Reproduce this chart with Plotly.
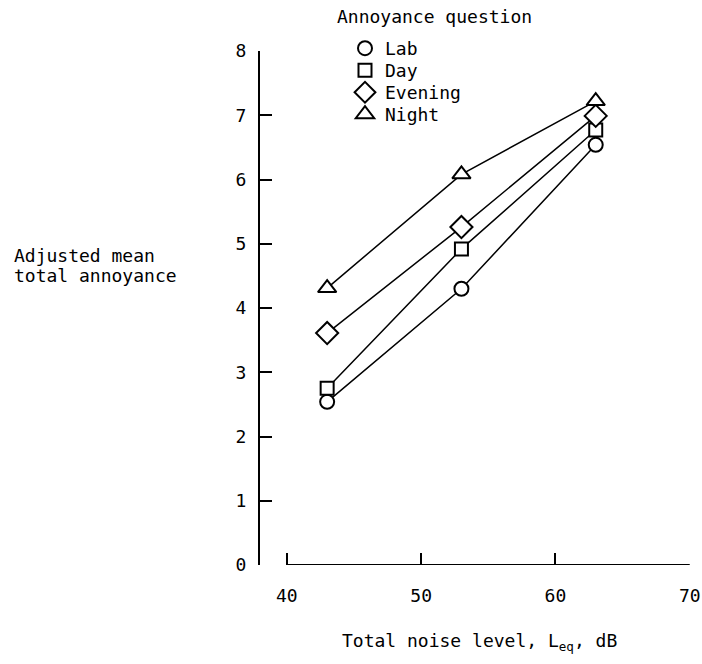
import plotly.graph_objects as go

noise_level = [43, 53, 63]
series_names = ["Lab", "Day", "Evening", "Night"]
lab = [2.54, 4.30, 6.54]
day = [2.75, 4.92, 6.77]
evening = [3.61, 5.26, 6.99]
night = [4.31, 6.08, 7.22]
x_ticks = [40, 50, 60, 70]
y_ticks = [0, 1, 2, 3, 4, 5, 6, 7, 8]

values = [lab, day, evening, night]
symbols = ["circle", "square", "diamond", "triangle-up"]
sizes = [14, 13, 17, 16]

FONT = "DejaVu Sans Mono"
FS = 18
L, R, T, B = 260, 12, 51, 99
PW, PH = 702 - L - R, 664 - T - B

fig = go.Figure()
for name, vals, sym, sz in zip(series_names, values, symbols, sizes):
    fig.add_trace(go.Scatter(
        x=noise_level, y=vals, mode="lines+markers", showlegend=False,
        line=dict(color="black", width=1.5),
        marker=dict(symbol=sym, size=sz, color="white", line=dict(color="black", width=2)),
    ))

legend_rows = [48, 70, 92, 114]  # pixel centers of legend rows
legend_layout = {}
for i, (name, sym, sz, row) in enumerate(zip(series_names, symbols, sizes, legend_rows)):
    key = "legend" if i == 0 else f"legend{i + 1}"
    fig.add_trace(go.Scatter(
        x=[None], y=[None], mode="markers", name=name, legend=key,
        marker=dict(symbol=sym, size=sz, color="white", line=dict(color="black", width=2)),
    ))
    legend_layout[key] = dict(
        x=(345 - L) / PW, y=1 + (T - (row - 18)) / PH, xanchor="left", yanchor="top",
        bgcolor="rgba(0,0,0,0)", font=dict(family=FONT, size=FS), itemwidth=30,
    )

fig.add_shape(type="line", xref="x", yref="y", x0=x_ticks[0], x1=x_ticks[-1], y0=0, y1=0,
              line=dict(color="black", width=2))

fig.update_layout(
    width=702, height=664,
    margin=dict(l=L, r=R, t=T, b=B, autoexpand=False),
    paper_bgcolor="white", plot_bgcolor="white",
    font=dict(family=FONT, size=FS, color="black"),
    showlegend=True,
    xaxis=dict(range=[38, 70.02], tickvals=x_ticks, ticks="inside", ticklen=12, tickwidth=2,
               tickcolor="black", showgrid=False, zeroline=False, showline=False,
               ticklabelstandoff=18, automargin=False, ticklabeloverflow="allow"),
    yaxis=dict(range=[0, 8], tickvals=y_ticks, ticks="inside", ticklen=12, tickwidth=2,
               tickcolor="black", showgrid=False, zeroline=False, showline=True,
               linecolor="black", linewidth=2, ticklabelstandoff=8, automargin=False),
    annotations=[
        dict(text="Annoyance question", xref="paper", yref="paper", x=(434 - L) / PW,
             y=1 + (T - 16) / PH, xanchor="center", yanchor="middle", showarrow=False),
        dict(text="Adjusted mean", xref="paper", yref="paper",
             x=(12 - L) / PW, y=(565 - 255) / PH, xanchor="left", yanchor="middle",
             align="left", showarrow=False),
        dict(text="total annoyance", xref="paper", yref="paper",
             x=(12 - L) / PW, y=(565 - 275) / PH, xanchor="left", yanchor="middle",
             align="left", showarrow=False),
        dict(text="Total noise level, L<sub>eq</sub>, dB", xref="paper", yref="paper",
             x=(340 - L) / PW, y=-(642 - 565) / PH, xanchor="left", yanchor="middle",
             showarrow=False),
    ],
    **legend_layout,
)

fig.write_html("out.html", config={"displayModeBar": False},
               post_script="document.body.style.margin='0';")
